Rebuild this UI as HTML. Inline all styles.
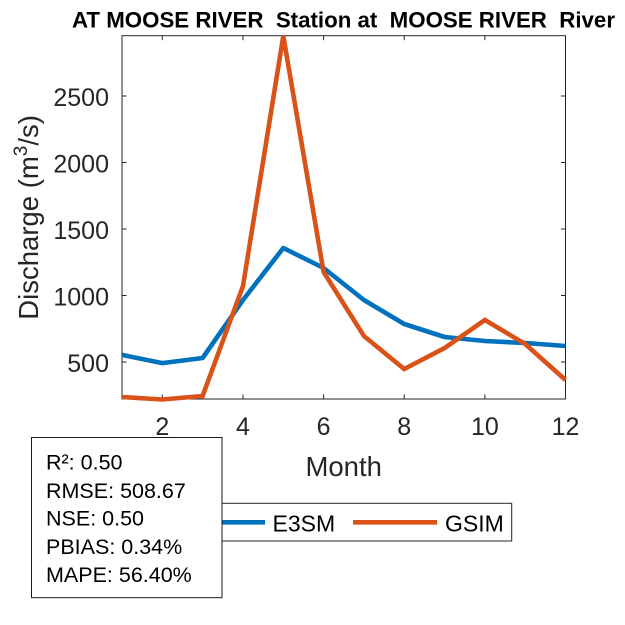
<!DOCTYPE html>
<html>
<head>
<meta charset="utf-8">
<style>
html,body{margin:0;padding:0;background:#fff;}
svg{display:block;}
text{font-family:"Liberation Sans", Arial, sans-serif;}
</style>
</head>
<body>
<svg width="625" height="625" viewBox="0 0 625 625" xmlns="http://www.w3.org/2000/svg">
<rect x="0" y="0" width="625" height="625" fill="#fff"/>

<!-- Title -->
<text x="72" y="27.5" font-size="22" font-weight="bold" fill="#000" textLength="543" lengthAdjust="spacingAndGlyphs" xml:space="preserve">AT MOOSE RIVER  Station at  MOOSE RIVER  River</text>

<!-- Axes box -->
<rect x="122" y="35.7" width="443.5" height="363.3" fill="none" stroke="#262626" stroke-width="1"/>

<!-- X ticks -->
<g stroke="#262626" stroke-width="1">
  <line x1="162.3" y1="399" x2="162.3" y2="394.5"/>
  <line x1="243" y1="399" x2="243" y2="394.5"/>
  <line x1="323.6" y1="399" x2="323.6" y2="394.5"/>
  <line x1="404.2" y1="399" x2="404.2" y2="394.5"/>
  <line x1="484.9" y1="399" x2="484.9" y2="394.5"/>
  <line x1="162.3" y1="35.7" x2="162.3" y2="40.2"/>
  <line x1="243" y1="35.7" x2="243" y2="40.2"/>
  <line x1="323.6" y1="35.7" x2="323.6" y2="40.2"/>
  <line x1="404.2" y1="35.7" x2="404.2" y2="40.2"/>
  <line x1="484.9" y1="35.7" x2="484.9" y2="40.2"/>
  <!-- Y ticks -->
  <line x1="122" y1="362" x2="126.5" y2="362"/>
  <line x1="122" y1="295.5" x2="126.5" y2="295.5"/>
  <line x1="122" y1="229" x2="126.5" y2="229"/>
  <line x1="122" y1="162.5" x2="126.5" y2="162.5"/>
  <line x1="122" y1="96" x2="126.5" y2="96"/>
  <line x1="565.5" y1="362" x2="561" y2="362"/>
  <line x1="565.5" y1="295.5" x2="561" y2="295.5"/>
  <line x1="565.5" y1="229" x2="561" y2="229"/>
  <line x1="565.5" y1="162.5" x2="561" y2="162.5"/>
  <line x1="565.5" y1="96" x2="561" y2="96"/>
</g>

<!-- X tick labels -->
<g font-size="25" fill="#262626" text-anchor="middle">
  <text x="162.3" y="435">2</text>
  <text x="243" y="435">4</text>
  <text x="323.6" y="435">6</text>
  <text x="404.2" y="435">8</text>
  <text x="484.9" y="435">10</text>
  <text x="565.5" y="435">12</text>
</g>

<!-- Y tick labels -->
<g font-size="25" fill="#262626" text-anchor="end">
  <text x="109" y="372">500</text>
  <text x="109" y="305.5">1000</text>
  <text x="109" y="239">1500</text>
  <text x="109" y="172.5">2000</text>
  <text x="109" y="106">2500</text>
</g>

<!-- Axis labels -->
<text x="343.7" y="476" font-size="27.5" fill="#262626" text-anchor="middle">Month</text>
<text transform="translate(38,217.4) rotate(-90)" font-size="27.5" fill="#262626" text-anchor="middle">Discharge (m<tspan font-size="19" dy="-11">3</tspan><tspan dy="11">/s)</tspan></text>

<!-- Series -->
<polyline fill="none" stroke="#0072BD" stroke-width="4.6" stroke-linejoin="round"
  points="122,354.9 162.3,363.1 202.6,358 243,300 283.3,248 323.6,268 363.9,300 404.2,324 444.6,337 484.9,341 525.2,343 565.5,346"/>
<polyline fill="none" stroke="#D95319" stroke-width="4.6" stroke-linejoin="miter" stroke-miterlimit="4"
  points="122,397 162.3,399.5 202.6,396 243,286 283.3,36 323.6,272 363.9,336 404.2,369 444.6,348 484.9,320 525.2,344 565.5,380"/>

<!-- Legend -->
<rect x="176" y="503.3" width="335.7" height="37.7" fill="#fff" stroke="#262626" stroke-width="1"/>
<line x1="181" y1="522.3" x2="265" y2="522.3" stroke="#0072BD" stroke-width="4.6"/>
<text x="272.5" y="531.5" font-size="23" fill="#000">E3SM</text>
<line x1="353" y1="522.3" x2="437" y2="522.3" stroke="#D95319" stroke-width="4.6"/>
<text x="445" y="531.5" font-size="23" fill="#000">GSIM</text>

<!-- Stats box -->
<rect x="31.5" y="437.5" width="190.5" height="160.2" fill="#fff" stroke="#1a1a1a" stroke-width="1"/>
<g font-size="21.5" fill="#000">
  <text x="46" y="469.5">R²: 0.50</text>
  <text x="46" y="497.8">RMSE: 508.67</text>
  <text x="46" y="525.5">NSE: 0.50</text>
  <text x="46" y="553.8">PBIAS: 0.34%</text>
  <text x="46" y="581.8">MAPE: 56.40%</text>
</g>
</svg>
</body>
</html>
